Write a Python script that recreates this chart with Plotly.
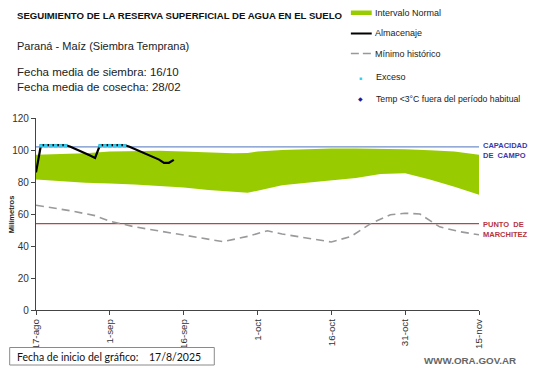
import plotly.graph_objects as go

# ---------------- data ----------------
tick_days = [0, 15, 30, 45, 60, 75, 90]
tick_labels = ["17-ago", "1-sep", "16-sep", "1-oct", "16-oct", "31-oct", "15-nov"]

band_days = [0, 5, 10, 15, 20, 25, 30, 35, 40, 43, 45, 50, 55, 60, 65, 70, 75, 80, 85, 90]
band_upper = [97, 97.5, 98, 99, 99.3, 99.5, 99, 98.5, 98, 98.2, 99, 100, 100.7, 101, 101, 100.8, 100.4, 99.8, 99, 97]
band_lower = [81.5, 80.5, 79.5, 79, 78.5, 77.5, 76.5, 75, 73.8, 73.3, 74.5, 78, 79.5, 81, 82.5, 85, 85.5, 81.5, 77, 72]

min_days = [0, 7, 12, 15, 20, 25, 30, 38, 43, 47, 50, 55, 60, 64, 68, 72, 75, 78, 82, 86, 90]
min_hist = [65.5, 62, 59, 55.5, 52, 49.5, 47, 42.7, 46, 49.5, 47.5, 45, 42.5, 46, 54, 59.5, 60.5, 60, 52, 49, 47]

alm_days = [0, 1, 2, 3, 4, 5, 6, 7, 9, 11, 12, 13, 14, 15, 16, 17, 18, 19, 21, 23, 25, 26, 27, 28]
alm_vals = [86, 103, 103, 103, 103, 103, 103, 102, 99.5, 96.5, 95, 103, 103, 103, 103, 103, 103, 102, 99.5, 97, 94, 92, 92, 93.8]

exc_days = [1, 2, 3, 4, 5, 6, 13, 14, 15, 16, 17, 18]
exc_vals = [102.6] * len(exc_days)

capacidad = 102
marchitez = 54
y_ticks = [0, 20, 40, 60, 80, 100, 120]

W, H = 541, 368
L, R, T, B = 33, 62, 118, 58
PW, PH = W - L - R, H - T - B


def px(x):
    return (x - L) / PW


def py(y):
    return (H - B - y) / PH


FONT = "Liberation Sans, Arial, sans-serif"
GREEN = "#99cc00"

fig = go.Figure()
fig.add_trace(go.Scatter(x=band_days, y=band_lower, mode="lines", line=dict(width=0, color=GREEN),
                         showlegend=False, hoverinfo="skip"))
fig.add_trace(go.Scatter(x=band_days, y=band_upper, mode="lines", line=dict(width=0, color=GREEN),
                         fill="tonexty", fillcolor=GREEN, name="Intervalo Normal", showlegend=False))
fig.add_trace(go.Scatter(x=[0, 90], y=[capacidad, capacidad], mode="lines",
                         line=dict(color="#6f8fc9", width=1.2), showlegend=False, hoverinfo="skip"))
fig.add_trace(go.Scatter(x=[0, 90], y=[marchitez, marchitez], mode="lines",
                         line=dict(color="#b5474b", width=1.2), showlegend=False, hoverinfo="skip"))
fig.add_trace(go.Scatter(x=min_days, y=min_hist, mode="lines", name="Mínimo histórico",
                         line=dict(color="#9a9a9a", width=1.6, dash="8px,5px"), showlegend=False))
fig.add_trace(go.Scatter(x=alm_days, y=alm_vals, mode="lines", name="Almacenaje",
                         line=dict(color="#000000", width=2.2), showlegend=False))
fig.add_trace(go.Scatter(x=exc_days, y=exc_vals, mode="markers", name="Exceso",
                         marker=dict(color="#33ccee", size=3.5, symbol="square"), showlegend=False))

fig.update_xaxes(range=[0, 90], tickvals=tick_days, ticktext=tick_labels, tickangle=-90,
                 showgrid=False, zeroline=False, showline=True, linecolor="#444", linewidth=1.2,
                 ticks="outside", ticklen=4, tickcolor="#444",
                 tickfont=dict(family=FONT, size=9.8, color="#333"))
fig.update_yaxes(range=[0, 120], tickvals=y_ticks, showgrid=False, zeroline=False,
                 showline=True, linecolor="#444", linewidth=1.2, ticks="outside", ticklen=4,
                 tickcolor="#444", tickfont=dict(family=FONT, size=10, color="#333"))

ann = []
shapes = []


def text(x, y, s, size=11, color="#222", bold=False, xanchor="left", family=FONT, angle=0):
    if bold:
        s = "<b>" + s + "</b>"
    ann.append(dict(x=px(x), y=py(y), xref="paper", yref="paper", text=s, showarrow=False,
                    xanchor=xanchor, yanchor="middle", textangle=angle,
                    font=dict(family=family, size=size, color=color)))


text(12, 15, "SEGUIMIENTO DE LA RESERVA SUPERFICIAL DE AGUA EN EL SUELO", size=9.6, color="#111", bold=True)
text(12, 46, "Paraná - Maíz (Siembra Temprana)", size=11)
text(12, 72, "Fecha media de siembra: 16/10", size=11.5)
text(12, 87, "Fecha media de cosecha: 28/02", size=11.5)

# legend
shapes.append(dict(type="rect", xref="paper", yref="paper", x0=px(350), x1=px(371), y0=py(15), y1=py(10.5),
                   fillcolor=GREEN, line=dict(width=0)))
shapes.append(dict(type="line", xref="paper", yref="paper", x0=px(350), x1=px(371), y0=py(33.5), y1=py(33.5),
                   line=dict(color="#000", width=2)))
shapes.append(dict(type="line", xref="paper", yref="paper", x0=px(350), x1=px(371), y0=py(53.5), y1=py(53.5),
                   line=dict(color="#999", width=1.4, dash="8px,4px")))
text(372, 13, "Intervalo Normal", size=9)
text(372, 33.5, "Almacenaje", size=9)
text(372, 53.5, "Mínimo histórico", size=9)
text(373, 77, "Exceso", size=9)
text(373, 98.5, "Temp <3°C fuera del período habitual", size=8.7)
ann.append(dict(x=px(360), y=py(77.5), xref="paper", yref="paper", text="■", showarrow=False,
                font=dict(size=5, color="#33ccee"), xanchor="center", yanchor="middle"))
ann.append(dict(x=px(360), y=py(98.5), xref="paper", yref="paper", text="◆", showarrow=False,
                font=dict(size=6, color="#1a1aa0"), xanchor="center", yanchor="middle"))

# right side labels
text(481, 145, "CAPACIDAD", size=7.5, color="#3a3aa8", bold=True)
text(481, 155, "DE  CAMPO", size=7.5, color="#3a3aa8", bold=True)
text(481, 224, "PUNTO  DE", size=7.5, color="#b5353b", bold=True)
text(481, 234, "MARCHITEZ", size=7.5, color="#b5353b", bold=True)

# y title
text(8, 214, "Milímetros", size=7.5, color="#222", bold=True, xanchor="center", angle=-90)

# bottom box
shapes.append(dict(type="rect", xref="paper", yref="paper", x0=px(6.5), x1=px(212.5), y0=py(365), y1=py(347.5),
                   fillcolor="white", line=dict(color="#8a8a8a", width=1)))
text(12, 356.5, "Fecha de inicio del gráfico:", size=10.5, color="#111", family="Lato, sans-serif")
text(145, 356.5, "17/8/2025", size=10.5, color="#111", family="Lato, sans-serif")

text(518, 360, "WWW.ORA.GOV.AR", size=9.8, color="#666", bold=True, xanchor="right")

fig.update_layout(width=W, height=H, margin=dict(l=L, r=R, t=T, b=B, pad=0),
                  paper_bgcolor="white", plot_bgcolor="white", showlegend=False,
                  annotations=ann, shapes=shapes)

fig.write_html("out.html", config={"displayModeBar": False},
               post_script="document.body.style.margin='0';document.body.style.padding='0';"
                           "document.body.style.overflow='hidden';")
